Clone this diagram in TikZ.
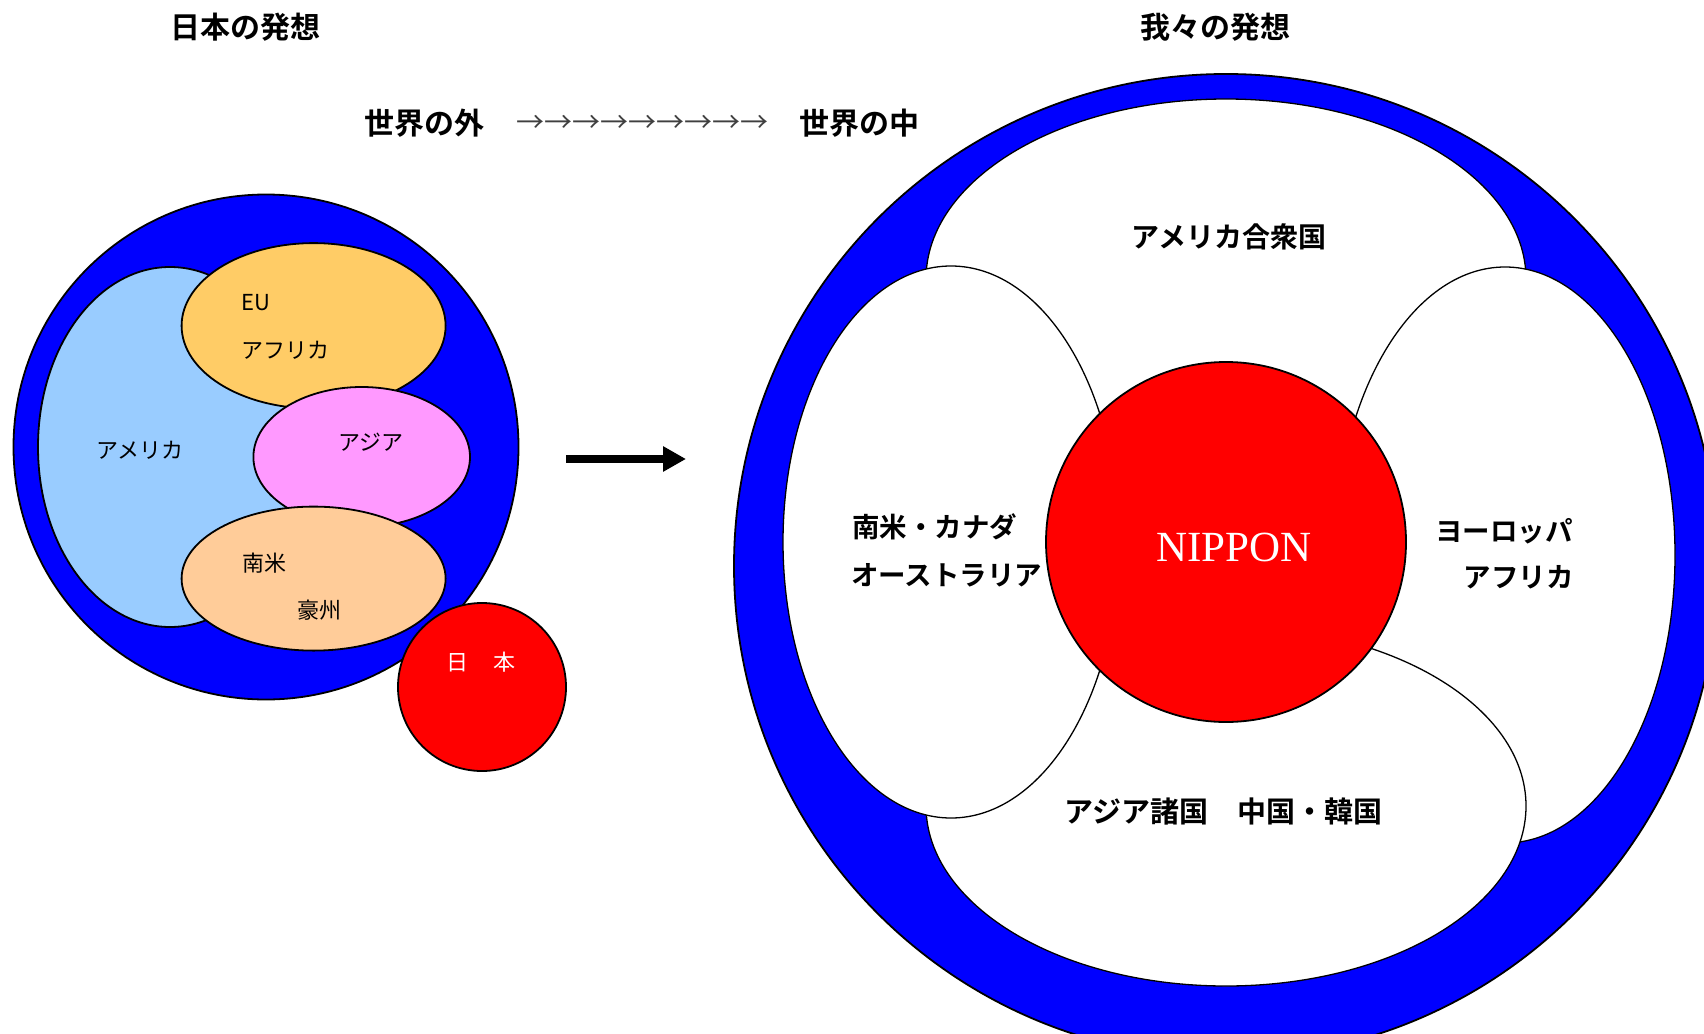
\documentclass[tikz,border=0pt]{standalone}
\usepackage{fontspec}
\usetikzlibrary{arrows.meta}
\setmainfont{Liberation Serif}
\newfontfamily\jp{Noto Sans CJK JP}[BoldFont={* Bold}]
\definecolor{ringblue}{RGB}{0,0,255}
\definecolor{nipred}{RGB}{255,0,0}
\definecolor{amblue}{RGB}{153,204,255}
\definecolor{euorange}{RGB}{255,204,102}
\definecolor{asiapink}{RGB}{255,153,255}
\definecolor{sapeach}{RGB}{255,204,153}
\tikzset{
  region/.style={draw=black, line width=1.8pt},
  petal/.style={draw=black, fill=white, line width=1.3pt},
  lbl/.style={font=\jp\fontsize{22}{26}\selectfont, inner sep=0pt},
  blbl/.style={font=\jp\bfseries\fontsize{27.5}{32}\selectfont, inner sep=0pt},
  ttl/.style={font=\jp\bfseries\fontsize{30}{34}\selectfont, inner sep=0pt},
}
\begin{document}
\begin{tikzpicture}[x=1pt,y=-1pt]
\useasboundingbox (0,0) rectangle (1704,1033);
\begin{scope}
\clip (0,0) rectangle (1704,1033);
% ---------- left: Japan's view ----------
\draw[region, fill=ringblue] (266,447) circle [radius=252.5pt];
\draw[region, fill=amblue] (170,447) ellipse [x radius=132pt, y radius=180pt];
\draw[region, fill=euorange] (313.6,325.8) ellipse [x radius=132pt, y radius=82.7pt];
\draw[region, fill=asiapink] (361.7,457) ellipse [x radius=108.3pt, y radius=70pt];
\draw[region, fill=sapeach] (313.6,578.6) ellipse [x radius=132pt, y radius=72pt];
\draw[region, fill=nipred] (482,687) circle [radius=84pt];
% ---------- right: our view ----------
\draw[region, fill=ringblue] (1226,566) circle [radius=492pt];
\draw[petal] (1226,279) ellipse [x radius=300pt, y radius=180pt];
\draw[petal] (1505,555) ellipse [x radius=170pt, y radius=288pt];
\draw[petal] (1226,806) ellipse [x radius=300pt, y radius=180pt];
\draw[petal] (951,542) ellipse [x radius=168pt, y radius=276pt];
\draw[region, fill=nipred] (1226,542) circle [radius=180pt];
\end{scope}
% ---------- big arrow ----------
\coordinate (arrS) at (566,459);
\coordinate (arrE) at (686,459);
\draw[line width=7.5pt, -{Triangle[length=23pt,width=24pt]}] (arrS) -- (arrE);
% ---------- titles ----------
\node[ttl] (t1) at (245.5,27) {日本の発想};
\node[ttl] (t2) at (1215.5,27) {我々の発想};
\node[ttl] (t3) at (424,123) {世界の外};
\node[font=\jp\fontsize{28}{32}\selectfont, inner sep=0pt, text=black!75] (t4) at (642,124) {→→→→→→→→→};
\node[ttl] (t5) at (859,123) {世界の中};
% ---------- left labels ----------
\node[lbl, anchor=west] (eu) at (241,302.5) {EU};
\node[lbl, anchor=west] (af1) at (241,350) {アフリカ};
\node[lbl] (am1) at (140,450) {アメリカ};
\node[lbl] (as1) at (371,442) {アジア};
\node[lbl, anchor=west] (sa1) at (242,562.7) {南米};
\node[lbl, anchor=west] (au1) at (297.7,610.5) {豪州};
\node[lbl, text=white] (jp1) at (481,662) {日\hspace{26pt}本};
% ---------- right labels ----------
\node[blbl, font=\jp\bfseries\fontsize{28}{32}\selectfont] (usa) at (1229,237) {アメリカ合衆国};
\node[blbl, anchor=west] (sa2) at (852,527) {南米・カナダ};
\node[blbl, anchor=west] (au2) at (851,575) {オーストラリア};
\node[blbl, anchor=east] (eu2) at (1573,531) {ヨーロッパ};
\node[blbl, anchor=east] (af2) at (1574,577) {アフリカ};
\node[blbl, font=\jp\bfseries\fontsize{29}{33}\selectfont] (asia2) at (1223.5,811) {アジア諸国　中国・韓国};
\node[font=\fontsize{43}{48}\selectfont, text=white, inner sep=0pt] (nip) at (1234,547) {NIPPON};
\end{tikzpicture}
\end{document}
